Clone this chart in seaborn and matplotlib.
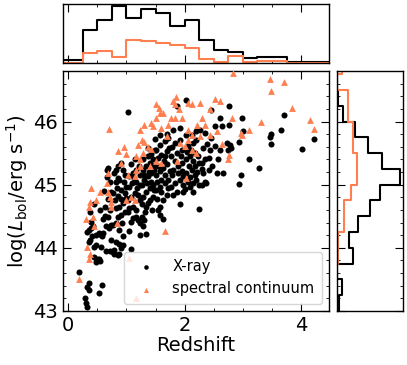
import numpy as np
import pandas as pd
import matplotlib
matplotlib.use("Agg")
import matplotlib.pyplot as plt
from matplotlib.ticker import MultipleLocator
import seaborn as sns

# ---------------- data ----------------
xray_z = [0.19,
 0.29,0.31,0.32,0.36,0.33,0.35,0.45,0.49,0.48,0.35,0.37,0.36,0.39,0.42,0.45,0.48,0.37,0.45,0.39,0.33,0.41,0.47,
 0.52,0.58,0.52,0.54,0.56,0.59,0.52,0.56,0.65,0.71,0.64,0.68,0.64,0.71,0.66,0.68,0.67,0.74,0.65,0.74,0.70,0.58,0.60,0.69,0.62,0.72,0.55,0.73,
 0.77,0.79,0.79,0.85,0.88,0.91,0.94,0.88,0.82,0.94,0.88,0.77,0.82,0.85,0.91,0.97,0.82,0.88,0.94,0.97,0.91,0.82,0.88,0.99,0.85,0.82,0.85,0.91,0.94,0.97,0.77,0.80,0.86,0.93,0.96,0.79,0.90,0.84,
 1.07,1.04,1.08,1.11,1.16,1.20,1.23,1.03,1.05,1.11,1.17,1.00,1.03,1.07,1.14,1.20,1.23,1.05,1.10,1.17,1.23,1.05,1.11,1.17,1.22,1.08,1.14,1.23,1.03,1.18,1.13,1.24,
 1.28,1.30,1.27,1.34,1.37,1.41,1.46,1.28,1.34,1.40,1.46,1.31,1.37,1.43,1.47,1.34,1.40,1.46,1.28,1.37,1.43,1.49,1.28,1.37,1.49,1.32,1.44,1.26,1.30,1.42,1.48,1.35,1.45,1.33,1.39,1.27,
 1.62,1.54,1.57,1.63,1.69,1.51,1.57,1.66,1.72,1.51,1.57,1.63,1.69,1.54,1.60,1.69,1.73,1.57,1.66,1.51,1.57,1.69,1.72,1.53,1.60,1.67,1.74,1.55,1.64,1.71,1.60,1.52,1.66,1.58,
 1.92,1.80,1.86,1.77,1.83,1.92,1.98,1.80,1.89,1.95,1.77,1.86,1.95,1.83,1.92,1.80,1.92,1.86,1.98,1.78,1.88,1.97,1.84,1.93,1.79,1.96,
 2.24,2.03,2.09,2.15,2.20,2.03,2.12,2.18,2.24,2.03,2.09,2.18,2.06,2.15,2.20,2.12,2.20,2.15,2.24,2.05,2.01,2.10,2.22,2.07,2.14,2.23,2.04,2.11,2.17,2.02,
 2.29,2.35,2.41,2.32,2.41,2.35,2.29,2.44,2.32,2.26,2.35,2.45,2.45,2.37,2.30,2.47,2.38,
 2.52,2.66,2.52,2.61,2.61,2.64,2.72,2.74,2.55,2.58,
 2.77,2.78,2.76,2.93,2.97,2.93,2.98,2.80,
 3.01,3.10,3.27,3.48,3.47,3.48,3.65,3.70,4.02,4.22]
xray_L = [43.61,
 43.20,43.12,43.06,43.44,43.38,43.33,43.86,43.82,43.78,44.10,44.12,44.28,44.31,44.34,44.02,44.04,44.57,44.70,44.41,44.25,44.18,44.20,
 43.28,43.41,43.83,43.79,44.20,44.23,44.23,44.02,43.95,43.95,44.50,44.49,44.65,44.60,45.24,45.26,45.12,44.89,44.34,44.36,44.31,44.18,44.45,44.78,44.90,45.05,44.60,44.12,
 43.94,43.91,43.96,43.88,43.91,43.99,44.04,44.06,44.10,44.18,44.28,44.36,44.39,44.49,44.52,44.57,44.63,44.65,44.71,44.87,44.92,45.05,45.08,44.97,45.11,45.24,45.29,45.34,45.24,45.16,44.87,44.75,44.82,44.40,45.05,45.18,44.78,44.95,
 43.98,44.27,44.41,44.47,44.49,44.44,44.39,44.57,44.63,44.65,44.60,44.79,44.76,44.81,44.87,44.84,44.76,44.97,45.02,45.05,45.00,45.13,45.18,45.24,45.29,45.32,45.40,44.20,46.15,44.95,45.10,45.15,
 44.34,44.44,44.49,44.65,44.71,44.76,44.81,44.81,44.89,44.94,45.00,45.08,45.13,45.18,45.24,45.29,45.34,45.40,45.24,45.45,45.49,45.55,45.40,45.58,45.72,44.57,44.60,45.00,45.15,45.05,44.92,45.02,45.30,44.22,45.20,44.70,
 44.45,44.60,44.65,44.76,44.84,44.92,44.97,45.02,45.08,45.16,45.21,45.26,45.32,45.42,45.47,45.53,45.58,45.63,45.69,45.55,45.79,45.81,45.74,44.78,44.88,45.15,45.22,45.30,45.38,44.95,45.08,45.05,45.45,44.52,
 44.70,44.84,44.89,44.97,45.02,45.08,45.13,45.24,45.29,45.34,45.45,45.50,45.55,45.66,45.71,45.87,45.90,46.25,44.89,45.15,45.18,45.00,45.38,45.45,45.60,45.22,
 44.61,46.34,44.97,45.02,45.08,45.18,45.24,45.29,45.34,45.40,45.45,45.50,45.61,45.66,45.71,45.79,45.85,44.89,45.00,45.05,44.93,45.12,45.20,45.30,45.38,45.45,45.52,45.55,45.15,45.78,
 45.34,45.40,45.42,45.18,45.24,45.05,45.00,45.55,45.58,45.87,45.82,46.19,45.74,45.03,45.25,45.30,45.65,
 45.93,45.18,45.61,45.55,46.06,45.93,45.66,45.55,45.18,45.40,
 46.24,45.63,45.95,45.01,45.16,45.67,46.06,45.58,
 45.85,45.41,45.27,45.81,45.76,45.64,45.86,46.10,45.57,45.72]

spec_z = [0.19,0.36,0.37,0.33,0.37,0.36,0.39,0.43,0.45,0.48,0.70,0.68,0.66,0.71,0.74,0.74,0.68,0.84,0.86,1.00,
 1.03,1.04,1.17,1.23,1.27,1.31,1.37,1.16,1.43,1.46,1.51,1.56,1.57,1.63,1.69,1.80,1.83,1.85,1.83,1.95,
 2.06,2.12,2.26,2.06,2.12,2.52,2.61,2.44,2.81,2.83,3.46,3.48,3.70,3.85,3.32,3.10,2.96,2.98,4.15,4.23,
 2.64,2.77,2.75,1.66,1.51,1.60,1.40,1.17,1.23,1.00,1.14,1.23,1.86,2.00,2.06,2.12,2.20,1.92,2.26,2.03,
 2.35,2.22,2.44,1.07,1.14,1.20,1.28,1.43,1.60,1.72,1.76,0.55,0.30,0.90,0.95,1.30,1.50,1.90,2.30,2.55]
spec_L = [43.51,43.83,43.90,44.02,44.73,44.65,44.94,44.49,44.34,44.76,45.88,45.18,45.02,44.81,44.73,44.65,44.89,44.39,45.54,45.49,
 45.16,43.84,43.20,45.87,45.71,45.67,45.60,45.46,45.98,45.93,46.27,46.22,46.14,46.13,45.77,46.32,46.27,46.39,46.06,46.06,
 46.30,46.28,46.30,45.87,45.79,46.36,46.32,46.20,46.06,46.77,46.68,46.48,46.62,46.21,45.99,45.87,45.82,45.79,46.02,45.88,
 45.65,45.47,45.41,44.27,45.37,45.34,45.29,45.24,45.29,44.76,44.76,45.40,45.37,45.61,45.71,45.55,45.50,45.66,45.77,45.10,
 45.95,45.94,45.79,44.81,45.13,45.63,45.50,45.56,45.90,45.95,46.05,44.88,44.45,45.35,45.60,45.95,46.05,46.20,46.05,45.85]

# marginal histograms (heights in arbitrary units)
z_edges = [-0.25, 0.0, 0.25, 0.5, 0.75, 1.0, 1.25, 1.5, 1.75, 2.0, 2.25, 2.5, 2.75,
           3.0, 3.25, 3.5, 3.75, 4.0, 4.25, 4.5, 4.75]
z_hist_xray = [10, 10, 99, 129, 169, 135, 159, 147, 109, 129, 69, 39, 34, 17, 20, 20, 4, 4, 4, 4]
z_hist_spec = [0, 0, 30, 37, 19, 70, 67, 59, 54, 44, 12, 5, 22, 5, 7, 7, 2, 2, 2, 2]

L_edges = [43.0, 43.25, 43.5, 43.75, 44.0, 44.25, 44.5, 44.75, 45.0, 45.25, 45.5,
           45.75, 46.0, 46.25, 46.5, 46.75, 47.0]
L_hist_xray = [8, 15, 2, 50, 38, 63, 100, 130, 190, 135, 95, 55, 18, 4, 0, 0]
L_hist_spec = [2, 2, 2, 3, 5, 22, 22, 42, 62, 62, 50, 50, 33, 33, 2, 15]

ORANGE = "coral"

# ---------------- figure ----------------
sns.set_style("ticks")
plt.rcParams["font.family"] = ["DejaVu Sans"]
plt.rcParams.update({
    "axes.linewidth": 1.0,
    "axes.edgecolor": "black",
    "text.color": "black",
    "axes.labelcolor": "black",
    "xtick.color": "black",
    "ytick.color": "black",
})

fig = plt.figure(figsize=(4.07, 3.65), dpi=100)
W, H = 407.0, 365.0
ax = fig.add_axes([63 / W, 1 - 311 / H, 266 / W, 240 / H])
ax_top = fig.add_axes([63 / W, 1 - 63.3 / H, 266 / W, 59 / H])
ax_r = fig.add_axes([336.7 / W, 1 - 311 / H, 66 / W, 240 / H])

df_x = pd.DataFrame({"z": xray_z, "L": xray_L})
df_s = pd.DataFrame({"z": spec_z, "L": spec_L})

sns.scatterplot(data=df_x, x="z", y="L", ax=ax, color="black", marker="o",
                s=19, linewidth=0, label="X-ray", zorder=2)
sns.scatterplot(data=df_s, x="z", y="L", ax=ax, color=ORANGE, marker="^",
                s=24, linewidth=0, label="spectral continuum", zorder=3)

ax.set_xlim(-0.09, 4.48)
ax.set_ylim(43.0, 46.8)
ax.xaxis.set_major_locator(MultipleLocator(2))
ax.xaxis.set_minor_locator(MultipleLocator(0.5))
ax.yaxis.set_major_locator(MultipleLocator(1))
ax.yaxis.set_minor_locator(MultipleLocator(0.2))
ax.tick_params(which="both", direction="in", top=True, right=True, labelsize=14)
ax.tick_params(which="major", length=5.5)
ax.tick_params(which="minor", length=2.5)
ax.set_xlabel("Redshift", fontsize=14, labelpad=1)
ax.set_ylabel(r"log($L_{\rm bol}$/erg s$^{-1}$)", fontsize=14, labelpad=2)
leg = ax.legend(loc="lower right", fontsize=10.5, markerscale=0.75,
                framealpha=0.8, handletextpad=0.8, borderpad=0.5)

# top histogram
zc = [(a + b) / 2 for a, b in zip(z_edges[:-1], z_edges[1:])]
sns.histplot(x=zc, weights=z_hist_xray, bins=z_edges, element="step", fill=False,
             color="black", linewidth=1.5, ax=ax_top)
sns.histplot(x=zc, weights=z_hist_spec, bins=z_edges, element="step", fill=False,
             color=ORANGE, linewidth=1.5, ax=ax_top)
ax_top.set_xlim(-0.09, 4.48)
ax_top.set_ylim(0, 174)
ax_top.xaxis.set_major_locator(MultipleLocator(2))
ax_top.xaxis.set_minor_locator(MultipleLocator(0.5))
ax_top.tick_params(which="both", direction="in", top=True, bottom=True,
                   labelbottom=False, left=False, labelleft=False)
ax_top.tick_params(which="major", length=5.5)
ax_top.tick_params(which="minor", length=2.5)
ax_top.set_xlabel("")
ax_top.set_ylabel("")

# right histogram
Lc = [(a + b) / 2 for a, b in zip(L_edges[:-1], L_edges[1:])]
sns.histplot(y=Lc, weights=L_hist_xray, bins=L_edges, element="step", fill=False,
             color="black", linewidth=1.5, ax=ax_r)
sns.histplot(y=Lc, weights=L_hist_spec, bins=L_edges, element="step", fill=False,
             color=ORANGE, linewidth=1.5, ax=ax_r)
ax_r.set_ylim(43.0, 46.8)
ax_r.set_xlim(0, 198)
ax_r.yaxis.set_major_locator(MultipleLocator(1))
ax_r.yaxis.set_minor_locator(MultipleLocator(0.2))
ax_r.tick_params(which="both", direction="in", left=True, right=True,
                 labelleft=False, bottom=False, labelbottom=False)
ax_r.tick_params(which="major", length=5.5)
ax_r.tick_params(which="minor", length=2.5)
ax_r.set_xlabel("")
ax_r.set_ylabel("")

fig.savefig("out.png", dpi=100)
